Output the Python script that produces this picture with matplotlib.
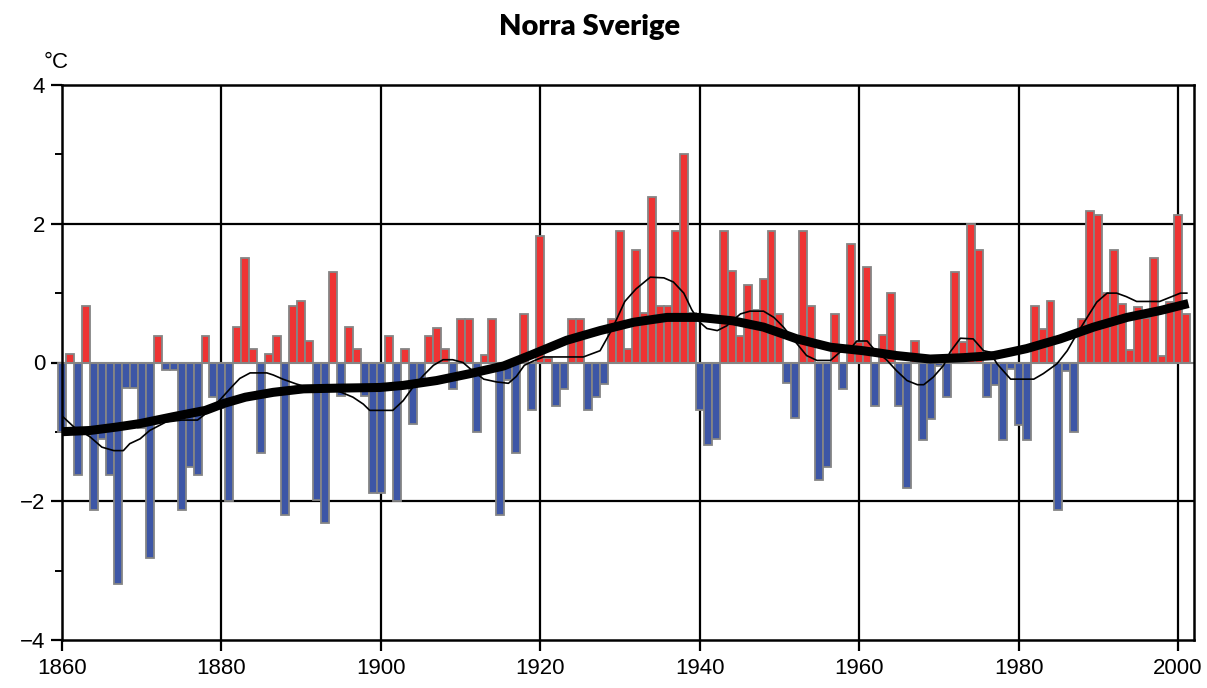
import numpy as np
import matplotlib
matplotlib.use('Agg')
import matplotlib.pyplot as plt

# Årliga temperaturavvikelser, Norra Sverige (°C)
years = np.arange(1860, 2002)
anomaly = [
    -1.0, 0.12, -1.62, 0.82, -2.12, -1.1, -1.62, -3.19, -0.37, -0.37,      # 1860-69
    -0.95, -2.82, 0.38, -0.11, -0.11, -2.12, -1.5, -1.62, 0.38, -0.5,      # 1870-79
    -0.65, -2.0, 0.51, 1.5, 0.19, -1.31, 0.12, 0.38, -2.2, 0.82,           # 1880-89
    0.88, 0.31, -1.98, -2.32, 1.31, -0.49, 0.51, 0.19, -0.49, -1.88,       # 1890-99
    -1.88, 0.38, -2.0, 0.19, -0.88, -0.3, 0.38, 0.5, 0.19, -0.38,          # 1900-09
    0.62, 0.62, -1.0, 0.11, 0.62, -2.2, -0.25, -1.31, 0.7, -0.69,          # 1910-19
    1.82, 0.06, -0.62, -0.38, 0.62, 0.62, -0.69, -0.5, -0.31, 0.62,        # 1920-29
    1.89, 0.19, 1.62, 0.71, 2.39, 0.81, 0.81, 1.9, 3.01, 0.71,             # 1930-39
    -0.69, -1.19, -1.1, 1.9, 1.32, 0.38, 1.12, 0.75, 1.2, 1.9,             # 1940-49
    0.7, -0.3, -0.8, 1.9, 0.82, -1.69, -1.5, 0.7, -0.38, 1.71,             # 1950-59
    0.3, 1.38, -0.62, 0.39, 1.0, -0.62, -1.81, 0.31, -1.12, -0.81,         # 1960-69
    -0.05, -0.5, 1.31, 0.3, 2.0, 1.62, -0.5, -0.32, -1.12, -0.1,           # 1970-79
    -0.9, -1.12, 0.82, 0.49, 0.88, -2.12, -0.12, -1.0, 0.63, 2.19,         # 1980-89
    2.13, 1.0, 1.62, 0.85, 0.18, 0.8, 0.64, 1.5, 0.1, 0.87,                # 1990-99
    2.13, 0.7,                                                             # 2000-01
]

# tunn kurva (ungefär 10-årsfilter), avläst
thin_x = [1860, 1861.5, 1863.5, 1865, 1866.5, 1867.7, 1868.5, 1869.8, 1871, 1872,
          1873, 1875, 1877, 1878, 1879.8, 1881.3, 1882.3, 1883.6, 1885.7, 1886.5,
          1887.7, 1889.4, 1891.5, 1894.4, 1896.5, 1897.8, 1898.6, 1901.5, 1902.8, 1904,
          1905.3, 1906.6, 1907.8, 1909, 1910.3, 1911.2, 1912.9, 1914.5, 1916, 1917,
          1918, 1919.1, 1920.4, 1925.4, 1927.5, 1929, 1930.6, 1932, 1933.8, 1935.5,
          1936.7, 1938, 1939, 1940, 1940.9, 1942.2, 1943.4, 1945.1, 1946.3, 1948,
          1949.3, 1950.5, 1952.2, 1953.4, 1954.7, 1956.4, 1957.6, 1958.9, 1959.7, 1961,
          1961.8, 1963.5, 1964.7, 1966, 1967.3, 1968.1, 1969.3, 1970.6, 1971.4, 1972.7,
          1974.3, 1975.6, 1976.4, 1977.3, 1979, 1981.9, 1983.1, 1984.8, 1986.1, 1987.3,
          1988.6, 1989.8, 1991.1, 1992.3, 1993.5, 1994.8, 1997.7, 1999, 2000.3, 2001.1]
thin_y = [-0.77, -0.93, -1.07, -1.22, -1.27, -1.27, -1.17, -1.1, -0.98, -0.92,
          -0.86, -0.83, -0.83, -0.74, -0.54, -0.35, -0.23, -0.15, -0.15, -0.18,
          -0.24, -0.31, -0.38, -0.40, -0.5, -0.6, -0.69, -0.69, -0.55, -0.36,
          -0.19, -0.04, 0.04, 0.04, 0.0, -0.09, -0.24, -0.28, -0.3, -0.2,
          -0.04, 0.02, 0.08, 0.08, 0.17, 0.48, 0.88, 1.06, 1.23, 1.22,
          1.16, 1.0, 0.76, 0.58, 0.49, 0.46, 0.53, 0.7, 0.74, 0.74,
          0.65, 0.51, 0.27, 0.1, 0.03, 0.03, 0.15, 0.2, 0.31, 0.31,
          0.2, 0.03, -0.12, -0.26, -0.32, -0.32, -0.21, -0.04, 0.15, 0.35,
          0.34, 0.17, 0.15, -0.02, -0.24, -0.24, -0.16, -0.02, 0.17, 0.41,
          0.65, 0.87, 1.0, 1.0, 0.95, 0.88, 0.88, 0.94, 1.0, 1.0]

# tjock kurva (långsiktig trend), avläst
thick_x = [1859.5, 1863.5, 1866.9, 1869.8, 1874, 1878, 1880.3, 1883, 1886.5, 1890.3,
           1894.4, 1899.9, 1902.8, 1907, 1911.2, 1915.4, 1919.1, 1923.3, 1927.5, 1931.7,
           1935.9, 1940, 1944.2, 1948, 1952.2, 1956.4, 1960.5, 1964.7, 1968.9, 1973.1,
           1976.9, 1979, 1981, 1985.2, 1989.4, 1993.6, 1997.8, 2001.3]
thick_y = [-1.0, -0.98, -0.93, -0.88, -0.78, -0.69, -0.59, -0.5, -0.43, -0.38,
           -0.37, -0.36, -0.33, -0.26, -0.16, -0.05, 0.12, 0.32, 0.46, 0.58,
           0.65, 0.65, 0.6, 0.51, 0.34, 0.22, 0.17, 0.1, 0.05, 0.07,
           0.1, 0.15, 0.2, 0.34, 0.51, 0.65, 0.75, 0.85]

xticks = [1860, 1880, 1900, 1920, 1940, 1960, 1980, 2000]
yticks = [-4, -2, 0, 2, 4]

RED = '#ee3333'
BLUE = '#3d56a6'
EDGE = '#858585'

plt.rcParams['font.family'] = ['Liberation Sans', 'DejaVu Sans']

fig = plt.figure(figsize=(12.07, 6.88), dpi=100)
ax = fig.add_axes([62/1207, 1 - 640/688, (1194 - 62)/1207, (640 - 85)/688])

anom = np.array(anomaly)
colors = np.where(anom >= 0, RED, BLUE)
ax.bar(years, anom, width=1.0, color=colors, edgecolor=EDGE, linewidth=1.3,
       zorder=2, clip_on=False)
ax.axhline(0, color=EDGE, lw=1.5, zorder=2)

ax.plot(thin_x, thin_y, color='black', lw=1.2, zorder=3)
ax.plot(thick_x, thick_y, color='black', lw=6.5, zorder=4, solid_capstyle='butt')

for x in xticks[1:]:
    ax.axvline(x, color='black', lw=1.6, zorder=1)
for y in (-2, 2):
    ax.axhline(y, color='black', lw=1.6, zorder=1)

ax.set_xlim(1860, 2002)
ax.set_ylim(-4, 4)
ax.set_xticks(xticks)
ax.set_yticks(yticks)
ax.set_yticks([-3, -1, 1, 3], minor=True)
ax.set_yticklabels([f'\u2212{abs(v)}' if v < 0 else str(v) for v in yticks])
ax.tick_params(axis='both', labelsize=16, width=1.6, length=8, color='black')
ax.tick_params(axis='y', which='minor', length=5, width=1.4)
ax.tick_params(axis='y', pad=4)
ax.tick_params(axis='x', pad=5)
for s in ax.spines.values():
    s.set_linewidth(1.8)
    s.set_color('black')

fig.text(590/1207, 1 - 27/688, 'Norra Sverige', ha='center', va='center',
         fontsize=21, fontweight='heavy', family=['Lato', 'DejaVu Sans'])
fig.text(44/1207, 1 - 63/688, '°C', ha='left', va='center', fontsize=16)

fig.savefig('out.png', dpi=100)
